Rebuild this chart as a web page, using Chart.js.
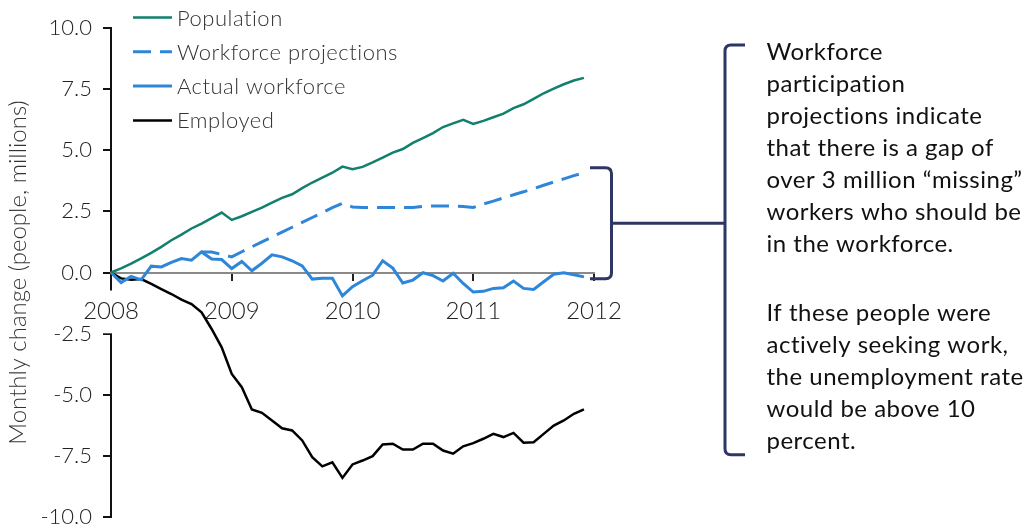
<!doctype html>
<html>
<head>
  <title>Workforce gap</title>
  <style>
    body { margin: 0; background: #fff; }
    #wrap { position: relative; width: 1029px; height: 531px; }
  </style>
</head>
<body>
<div id="wrap"><canvas id="chart"></canvas></div>

<script src="https://cdn.jsdelivr.net/npm/chart.js"></script>
<script>

	// monthly points, Jan 2008 .. Dec 2011 (the last label, Jan 2012, only closes the axis)
	const years = [2008, 2009, 2010, 2011]
	const monthNames = ['Jan', 'Feb', 'Mar', 'Apr', 'May', 'Jun', 'Jul', 'Aug', 'Sep', 'Oct', 'Nov', 'Dec']

	// change since Jan 2008, millions of people
	const population = [
		0, 0.17, 0.36, 0.58, 0.8, 1.05, 1.32, 1.55, 1.8, 2.0, 2.22, 2.45,
		2.15, 2.3, 2.48, 2.65, 2.86, 3.05, 3.2, 3.45, 3.68, 3.88, 4.08, 4.33,
		4.22, 4.32, 4.5, 4.7, 4.9, 5.05, 5.3, 5.5, 5.7, 5.95, 6.1, 6.24,
		6.08, 6.2, 6.35, 6.5, 6.72, 6.88, 7.1, 7.33, 7.52, 7.7, 7.85, 7.96
	]
	const projections = [
		null, null, null, null, null, null, null, null, null, 0.84, 0.84, 0.74,
		0.64, 0.85, 1.05, 1.25, 1.45, 1.65, 1.85, 2.05, 2.25, 2.45, 2.65, 2.83,
		2.68, 2.66, 2.66, 2.66, 2.66, 2.66, 2.66, 2.7, 2.72, 2.72, 2.72, 2.7,
		2.66, 2.8, 2.92, 3.05, 3.18, 3.3, 3.43, 3.57, 3.7, 3.83, 3.96, 4.08
	]
	const actual = [
		0, -0.41, -0.16, -0.3, 0.26, 0.23, 0.41, 0.57, 0.5, 0.84, 0.55, 0.53,
		0.16, 0.45, 0.07, 0.38, 0.72, 0.64, 0.48, 0.27, -0.27, -0.24, -0.24, -0.96,
		-0.58, -0.34, -0.11, 0.48, 0.18, -0.43, -0.31, -0.01, -0.13, -0.35, -0.03, -0.45,
		-0.8, -0.77, -0.65, -0.62, -0.35, -0.65, -0.69, -0.38, -0.07, -0.01, -0.09, -0.18
	]
	const employed = [
		0, -0.24, -0.3, -0.27, -0.47, -0.68, -0.88, -1.11, -1.29, -1.63, -2.31, -3.06,
		-4.15, -4.69, -5.6, -5.74, -6.05, -6.37, -6.46, -6.87, -7.55, -7.93, -7.76, -8.4,
		-7.85, -7.69, -7.51, -7.03, -7.0, -7.24, -7.24, -7.0, -7.0, -7.28, -7.41, -7.11,
		-6.98, -6.8, -6.6, -6.73, -6.56, -6.96, -6.94, -6.6, -6.26, -6.05, -5.78, -5.6
	]

	const yTicks = { min: -10, max: 10, step: 2.5 }

	const noteLines = [
		'Workforce',
		'participation',
		'projections indicate',
		'that there is a gap of',
		'over 3 million \u201cmissing\u201d',
		'workers who should be',
		'in the workforce.',
		'',
		'If these people were',
		'actively seeking work,',
		'the unemployment rate',
		'would be above 10',
		'percent.'
	]

	const labels = []
	years.forEach(yr => monthNames.forEach(mn => labels.push(mn + ' ' + yr)))
	labels.push('Jan 2012')

	// legend drawn top-left, partly above the plot area
	const sideLegend = {
		id: 'sideLegend',
		afterDraw(chart) {
			const ctx = chart.ctx
			ctx.save()
			chart.data.datasets.forEach((ds, i) => {
				const y = 17.5 + i * 34.3
				ctx.beginPath()
				ctx.strokeStyle = ds.borderColor
				ctx.lineWidth = ds.borderWidth
				ctx.setLineDash(ds.borderDash || [])
				ctx.moveTo(133, y)
				ctx.lineTo(172, y)
				ctx.stroke()
				ctx.setLineDash([])
				ctx.fillStyle = '#333'
				ctx.font = '300 22px Lato'
				ctx.letterSpacing = '0.5px'
				ctx.textBaseline = 'middle'
				ctx.fillText(ds.label, 177, y + 1)
			})
			ctx.restore()
		}
	}

	// brackets + explanation on the right
	const gapNote = {
		id: 'gapNote',
		afterDraw(chart) {
			const {ctx, chartArea, scales} = chart
			const r = chartArea.right
			const yS = scales.y
			const top = yS.getPixelForValue(projections[projections.length - 1] + 0.2)
			const bot = yS.getPixelForValue(actual[actual.length - 1] - 0.08)
			const mid = (top + bot) / 2
			const bigTop = yS.getPixelForValue(9.3)
			const bigBot = yS.getPixelForValue(-7.45)
			const sx = r + 17.5, bx = r + 131, rad = 6

			ctx.save()
			ctx.strokeStyle = '#2f3664'
			ctx.lineWidth = 3
			ctx.lineJoin = 'round'

			ctx.beginPath()
			ctx.moveTo(r - 4, top)
			ctx.lineTo(sx - rad, top)
			ctx.quadraticCurveTo(sx, top, sx, top + rad)
			ctx.lineTo(sx, bot - rad)
			ctx.quadraticCurveTo(sx, bot, sx - rad, bot)
			ctx.lineTo(r - 4, bot)
			ctx.stroke()

			ctx.beginPath()
			ctx.moveTo(bx + 20, bigTop)
			ctx.lineTo(bx + rad, bigTop)
			ctx.quadraticCurveTo(bx, bigTop, bx, bigTop + rad)
			ctx.lineTo(bx, bigBot - rad)
			ctx.quadraticCurveTo(bx, bigBot, bx + rad, bigBot)
			ctx.lineTo(bx + 20, bigBot)
			ctx.stroke()

			ctx.beginPath()
			ctx.moveTo(sx, mid)
			ctx.lineTo(bx, mid)
			ctx.stroke()

			ctx.fillStyle = '#111'
			ctx.font = '24px Lato'
			ctx.letterSpacing = '0.5px'
			ctx.textBaseline = 'alphabetic'
			let ty = 59.5
			noteLines.forEach(line => {
				if (line) {
					ctx.fillText(line, r + 172.5, ty)
					ty += 32
				} else {
					ty += 37
				}
			})
			ctx.restore()
		}
	}

	Chart.defaults.font.family = 'Lato'

	const chart = new Chart(document.getElementById('chart'), {
		type: 'line',
		data: {
			labels: labels,
			datasets: [
				{ label: 'Population', data: population, borderColor: '#11806d', borderWidth: 2.5 },
				{ label: 'Workforce projections', data: projections, borderColor: '#2e86d9', borderWidth: 3, borderDash: [18, 9] },
				{ label: 'Actual workforce', data: actual, borderColor: '#2e86d9', borderWidth: 3 },
				{ label: 'Employed', data: employed, borderColor: '#000', borderWidth: 2.5 }
			]
		},
		options: {
			responsive: true,
			maintainAspectRatio: false,
			animation: false,
			layout: { padding: { left: 0, top: 28, right: 435, bottom: 14 } },
			elements: {
				point: { radius: 0 },
				line: { tension: 0, fill: false }
			},
			plugins: {
				legend: { display: false },
				tooltip: { enabled: false }
			},
			scales: {
				x: {
					type: 'category',
					position: { y: 0 },
					offset: false,
					ticks: {
						autoSkip: false,
						maxRotation: 0,
						color: '#222',
						font: { size: 24, weight: 300 },
						padding: 17,
						callback(v, i) { return i % 12 === 0 ? this.getLabelForValue(v).slice(-4) : '' },
						showLabelBackdrop: c => c.index % 12 === 0,
						backdropColor: '#fff',
						backdropPadding: { top: 6, bottom: 8, left: 2, right: 2 }
					},
					grid: {
						drawOnChartArea: false,
						tickLength: 7,
						lineWidth: 2,
						tickColor: c => c.index % 12 === 0 ? '#222' : 'rgba(0,0,0,0)'
					},
					border: { color: '#8a8a8a', width: 2 }
				},
				y: {
					min: yTicks.min,
					max: yTicks.max,
					afterFit(scale) {
						scale.width = 111
						// keep the plot area set by layout padding only
						scale.paddingTop = 0
						scale.paddingBottom = 0
					},
					ticks: {
						stepSize: yTicks.step,
						callback: v => v.toFixed(1),
						color: '#222',
						font: { size: 22, weight: 300 },
						padding: 11
					},
					grid: { drawOnChartArea: false, tickLength: 8, lineWidth: 2, color: '#111' },
					border: { color: '#111', width: 2, z: -1 },
					title: {
						display: true,
						text: 'Monthly change (people, millions)',
						color: '#333',
						font: { size: 24, weight: 300 },
						padding: { top: 4, bottom: 0 }
					}
				}
			}
		},
		plugins: [sideLegend, gapNote]
	})

</script>
</body>
</html>
